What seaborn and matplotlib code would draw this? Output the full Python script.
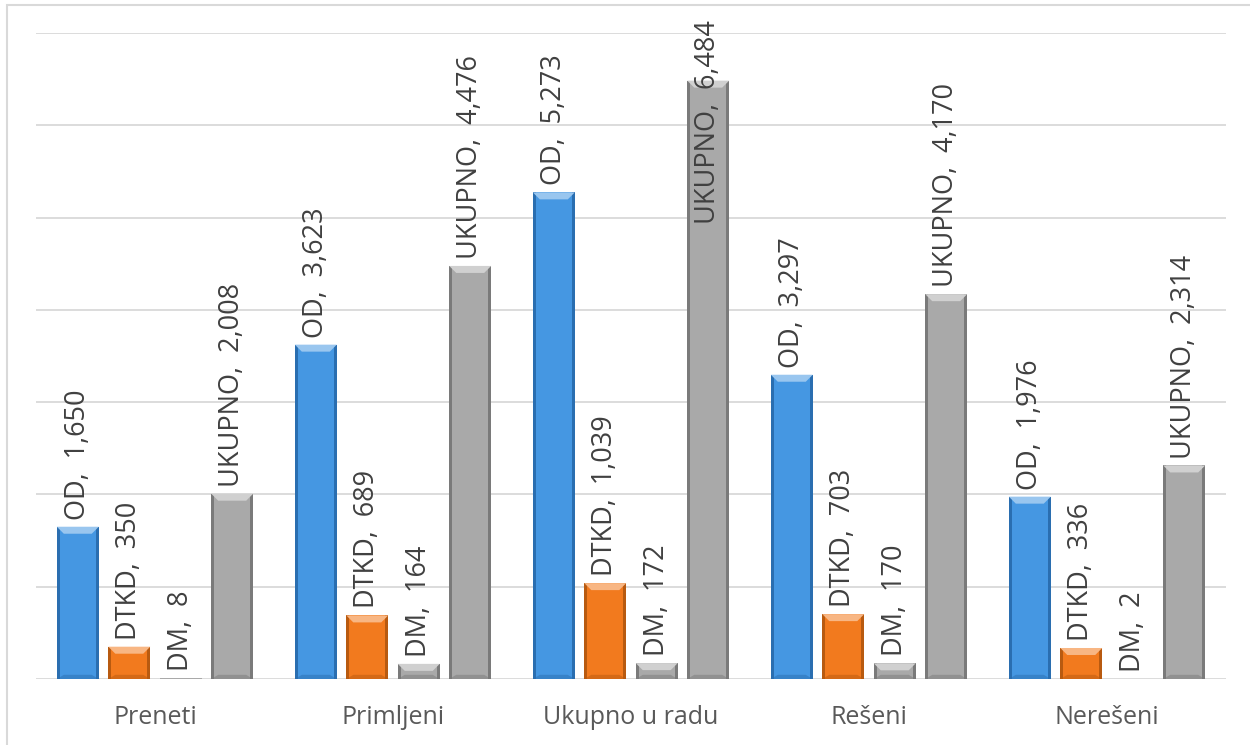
import numpy as np
import pandas as pd
import matplotlib
matplotlib.use('Agg')
import matplotlib.pyplot as plt
import seaborn as sns
from matplotlib.patches import Polygon, Rectangle
from matplotlib.transforms import IdentityTransform
import matplotlib.colors as mcolors

categories = ['Preneti', 'Primljeni', 'Ukupno u radu', 'Rešeni', 'Nerešeni']
series = ['OD', 'DTKD', 'DM', 'UKUPNO']
od = [1650, 3623, 5273, 3297, 1976]
dtkd = [350, 689, 1039, 703, 336]
dm = [8, 164, 172, 170, 2]
ukupno = [2008, 4476, 6484, 4170, 2314]
colors = ['#4597E2', '#F27A1E', '#A9A9A9', '#A9A9A9']
edge_colors = ['#2A6EB0', '#B85A10', '#7A7A7A', '#7A7A7A']

rows = []
for s, vals in zip(series, [od, dtkd, dm, ukupno]):
    for c, v in zip(categories, vals):
        rows.append({'kat': c, 'serija': s, 'vrednost': v})
df = pd.DataFrame(rows)

sns.set_style('white')
plt.rcParams['font.family'] = ['Open Sans', 'DejaVu Sans']

fig = plt.figure(figsize=(12.5, 7.45), dpi=100)
ax = fig.add_axes([36 / 1250, 66 / 745, 1190 / 1250, 646 / 745])

sns.barplot(data=df, x='kat', y='vrednost', hue='serija', palette=colors,
            width=0.865, gap=0.185, saturation=1, legend=False, ax=ax,
            edgecolor='none')

ax.set_ylim(0, 7000)
ax.set_xlim(-0.5, 4.5)
ax.set_yticks(np.arange(0, 7001, 1000))
ax.set_yticklabels([])
ax.tick_params(axis='y', length=0)
ax.tick_params(axis='x', length=0, labelsize=18, labelcolor='#595959', pad=19)
ax.grid(axis='y', color='#D9D9D9', linewidth=1.3)
ax.set_axisbelow(True)
for sp in ax.spines.values():
    sp.set_visible(False)
ax.set_xlabel('')
ax.set_ylabel('')

# bevel look on each bar
fig.canvas.draw()
for i, cont in enumerate(ax.containers):
    base = mcolors.to_rgb(colors[i])
    light = tuple(min(1, c + (1 - c) * 0.45) for c in base)
    dark = mcolors.to_rgb(edge_colors[i])
    for p in cont.patches:
        (x0, y0), (x1, y1) = ax.transData.transform([(p.get_x(), 0), (p.get_x() + p.get_width(), p.get_height())])
        d = 7
        if y1 - y0 < 2 * d:
            continue
        s = 3
        ax.add_artist(Polygon([(x0, y0), (x0 + s, y0), (x0 + s, y1), (x0, y1)], closed=True,
                              facecolor=dark, edgecolor='none', transform=IdentityTransform(), zorder=3))
        ax.add_artist(Polygon([(x1 - s, y0), (x1, y0), (x1, y1), (x1 - s, y1)], closed=True,
                              facecolor=dark, edgecolor='none', transform=IdentityTransform(), zorder=3))
        ax.add_artist(Polygon([(x0, y1), (x1, y1), (x1 - d, y1 - d), (x0 + d, y1 - d)], closed=True,
                              facecolor=light, edgecolor='none', transform=IdentityTransform(), zorder=3))
        ax.add_artist(Polygon([(x0, y0), (x1, y0), (x1 - d, y0 + d * 0.6), (x0 + d, y0 + d * 0.6)], closed=True,
                              facecolor=dark, alpha=0.5, edgecolor='none', transform=IdentityTransform(), zorder=3))

# data labels
anns = []
for i, cont in enumerate(ax.containers):
    for p in cont.patches:
        v = p.get_height()
        a = ax.annotate('{},  {:,}'.format(series[i], int(round(v))),
                        (p.get_x() + p.get_width() / 2, v), xytext=(0, 5),
                        textcoords='offset points', rotation=90, ha='center', va='bottom',
                        fontsize=19.5, color='#404040', annotation_clip=False, zorder=5)
        anns.append(a)

fig.canvas.draw()
r = fig.canvas.get_renderer()
limit = 745 - 20
for a in anns:
    bb = a.get_window_extent(r)
    if bb.y1 > limit:
        over = (bb.y1 - limit) * 72 / fig.dpi
        a.xyann = (0, 5 - over)

fig.add_artist(Rectangle((7 / 1250, -0.1), 1.2, 1.1 - 5 / 745, transform=fig.transFigure,
                         facecolor='none', edgecolor='#D9D9D9', linewidth=1.5))

fig.savefig('out.png', dpi=100)
